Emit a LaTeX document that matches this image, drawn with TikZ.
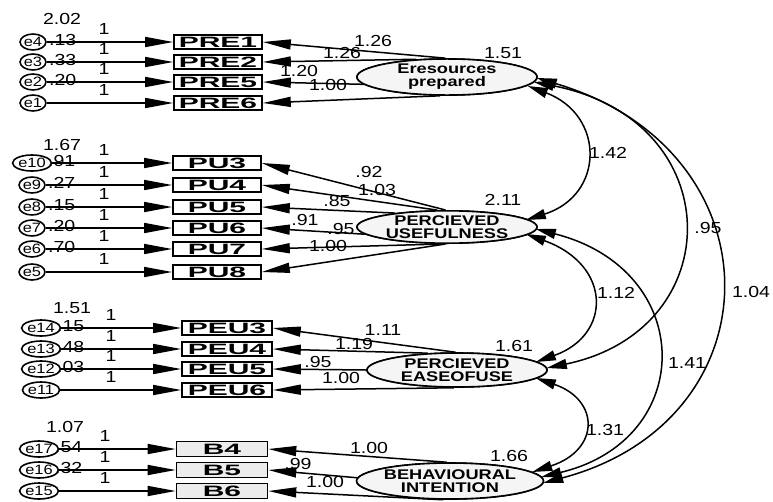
\documentclass[tikz,border=0pt]{standalone}
\usepackage{fontspec}
\setmainfont{Liberation Sans}
\newfontfamily\numf[FakeStretch=1.22]{Liberation Sans}
\newfontfamily\boxf[FakeStretch=2.0]{Liberation Sans Bold}
\newfontfamily\latf[FakeStretch=1.3]{Liberation Sans Bold}
\usetikzlibrary{arrows.meta,shapes.geometric,calc}
\tikzset{
  err/.style={ellipse, draw, line width=1.6pt, fill=white, minimum width=25pt, minimum height=16pt, inner sep=0pt, font=\numf\fontsize{13.5}{13}\selectfont},
  obs/.style={rectangle, draw, line width=1.6pt, fill=white, minimum width=88pt, minimum height=14pt, inner sep=0pt, font=\boxf\fontsize{15}{14}\selectfont},
  obsg/.style={obs, fill=gray!15},
  lat/.style={ellipse, draw, line width=1.6pt, fill=gray!8, minimum width=180pt, minimum height=30pt, inner sep=0pt, align=center, font=\latf\fontsize{14}{13}\selectfont},
  num/.style={inner sep=0pt, font=\numf\fontsize{16}{16}\selectfont},
  arr/.style={-{Triangle[length=28pt,width=10pt]}, line width=1.5pt},
  cov/.style={{Triangle[length=20pt,width=10pt]}-{Triangle[length=20pt,width=10pt]}, line width=1.5pt},
}
\begin{document}
\begin{tikzpicture}[x=1pt,y=-1pt]
\useasboundingbox[fill=white] (0,0) rectangle (773,501);

% ---------- latent variables ----------
\node[lat] (L1) at (447,77) {Eresources\\prepared};
\node[lat] (L2) at (447,227) {PERCIEVED\\USEFULNESS};
\node[lat, minimum height=34pt] (L3) at (457,370) {PERCIEVED\\EASEOFUSE};
\node[lat, minimum height=36pt] (L4) at (450,481) {BEHAVIOURAL\\INTENTION};

% ---------- PRE group ----------
\node[obs] (b1) at (218,42) {PRE1};
\node[obs] (b2) at (218,62) {PRE2};
\node[obs] (b3) at (218,82) {PRE5};
\node[obs] (b4) at (218,103) {PRE6};
\node[err] (e4) at (33,42) {e4};
\node[err] (e3) at (33,62) {e3};
\node[err] (e2) at (33,82) {e2};
\node[err] (e1) at (33,103) {e1};

% ---------- PU group ----------
\node[obs] (b5) at (217,163) {PU3};
\node[obs] (b6) at (217,185) {PU4};
\node[obs] (b7) at (217,207) {PU5};
\node[obs] (b8) at (217,228) {PU6};
\node[obs] (b9) at (217,249) {PU7};
\node[obs] (b10) at (217,272) {PU8};
\node[err] (e10) at (32,163) {e10};
\node[err] (e9) at (32,185) {e9};
\node[err] (e8) at (32,207) {e8};
\node[err] (e7) at (32,228) {e7};
\node[err] (e6) at (32,249) {e6};
\node[err] (e5) at (32,272) {e5};

% ---------- PEU group ----------
\node[obs, minimum width=90pt] (b11) at (227,328) {PEU3};
\node[obs, minimum width=90pt] (b12) at (227,349) {PEU4};
\node[obs, minimum width=90pt] (b13) at (227,369) {PEU5};
\node[obs, minimum width=90pt] (b14) at (227,390) {PEU6};
\node[err] (e14) at (41,328) {e14};
\node[err] (e13) at (41,349) {e13};
\node[err] (e12) at (41,369) {e12};
\node[err] (e11) at (41,390) {e11};

% ---------- B group ----------
\node[obsg, minimum width=91pt, minimum height=15pt] (b15) at (222,449) {B4};
\node[obsg, minimum width=91pt, minimum height=15pt] (b16) at (222,470) {B5};
\node[obsg, minimum width=91pt, minimum height=15pt] (b17) at (222,491) {B6};
\node[err] (e17) at (39,449) {e17};
\node[err] (e16) at (39,470) {e16};
\node[err] (e15) at (39,491) {e15};

% ---------- error arrows ----------
\foreach \e/\b in {e4/b1,e3/b2,e2/b3,e1/b4,e10/b5,e9/b6,e8/b7,e7/b8,e6/b9,e5/b10,e14/b11,e13/b12,e12/b13,e11/b14,e17/b15,e16/b16,e15/b17}
  \draw[arr] (\e) -- (\b);

% ---------- "1" labels ----------
\foreach \y [count=\i] in {29,49,69,90}
  \node[num] (oa\i) at (104,\y) {1};
\foreach \y [count=\i] in {150,172,194,215,236,259}
  \node[num] (ob\i) at (104,\y) {1};
\foreach \y [count=\i] in {315,336,356,377}
  \node[num] (oc\i) at (111,\y) {1};
\foreach \y [count=\i] in {436,457,478}
  \node[num] (od\i) at (105,\y) {1};

% ---------- error variances ----------
\node[num] (va1) at (62,19) {2.02};
\node[num, anchor=west] (va2) at (49,40) {.13};
\node[num, anchor=west] (va3) at (49,60) {.33};
\node[num, anchor=west] (va4) at (49,80) {.20};
\node[num] (vb1) at (62,145) {1.67};
\node[num, anchor=west] (vb2) at (48,161) {.91};
\node[num, anchor=west] (vb3) at (48,183) {.27};
\node[num, anchor=west] (vb4) at (48,205) {.15};
\node[num, anchor=west] (vb5) at (48,226) {.20};
\node[num, anchor=west] (vb6) at (48,247) {.70};
\node[num] (vc1) at (72,308) {1.51};
\node[num, anchor=west] (vc2) at (57,326) {.15};
\node[num, anchor=west] (vc3) at (57,347) {.48};
\node[num, anchor=west] (vc4) at (57,367) {.03};
\node[num] (vd1) at (65,427) {1.07};
\node[num, anchor=west] (vd2) at (55,447) {.54};
\node[num, anchor=west] (vd3) at (55,468) {.32};

% ---------- loadings ----------
\draw[arr] (L1.95) -- (b1.east);
\draw[arr] (L1.150) -- (b2.east);
\draw[arr] (L1.185) -- (b3.east);
\draw[arr] (L1.250) -- (b4.east);
\draw[arr] (L2.95) -- (b5.east);
\draw[arr] (L2.120) -- (b6.east);
\draw[arr] (L2.165) -- (b7.east);
\draw[arr] (L2.185) -- (b8.east);
\draw[arr] (L2.255) -- (b9.east);
\draw[arr] (L2.265) -- (b10.east);
\draw[arr] (L3.95) -- (b11.east);
\draw[arr] (L3.150) -- (b12.east);
\draw[arr] (L3.180) -- (b13.east);
\draw[arr] (L3.260) -- (b14.east);
\draw[arr] (L4.100) -- (b15.east);
\draw[arr] (L4.178) -- (b16.east);
\draw[arr] (L4.250) -- (b17.east);

% redraw latent ellipses on top of loading lines
\node[lat] at (L1) {Eresources\\prepared};
\node[lat] at (L2) {PERCIEVED\\USEFULNESS};
\node[lat, minimum height=34pt] at (L3) {PERCIEVED\\EASEOFUSE};
\node[lat, minimum height=36pt] at (L4) {BEHAVIOURAL\\INTENTION};

% loading labels
\node[num] (la1) at (373,41) {1.26};
\node[num] (la2) at (342,53) {1.26};
\node[num] (la3) at (299,71) {1.20};
\node[num] (la4) at (328,85) {1.00};
\node[num] (lb1) at (369,172) {.92};
\node[num] (lb2) at (377,190) {1.03};
\node[num] (lb3) at (337,201) {.85};
\node[num] (lb4) at (305,220) {.91};
\node[num] (lb5) at (341,229) {.95};
\node[num] (lb6) at (328,246) {1.00};
\node[num] (lc1) at (383,330) {1.11};
\node[num] (lc2) at (354,344) {1.19};
\node[num] (lc3) at (318,362) {.95};
\node[num] (lc4) at (341,378) {1.00};
\node[num] (ld1) at (369,448) {1.00};
\node[num] (ld2) at (298,464) {.99};
\node[num] (ld3) at (325,482) {1.00};

% latent variances
\node[num] (w1) at (503,53) {1.51};
\node[num] (w2) at (503,200) {2.11};
\node[num] (w3) at (514,346) {1.61};
\node[num] (w4) at (509,456) {1.66};

% ---------- covariances ----------
\coordinate (c1a) at ($(L1.east)+(-10,9)$);
\coordinate (c1b) at ($(L2.east)+(-12,-7)$);
\coordinate (c2a) at ($(L2.east)+(-12,7)$);
\coordinate (c2b) at ($(L3.east)+(-12,-8)$);
\coordinate (c3a) at ($(L3.east)+(-12,8)$);
\coordinate (c3b) at ($(L4.east)+(-12,-9)$);
\coordinate (c4a) at ($(L1.east)+(-4,5)$);
\coordinate (c4b) at ($(L3.east)+(-1,-2)$);
\coordinate (c5a) at ($(L2.east)+(-2,2)$);
\coordinate (c5b) at ($(L4.east)+(-3,-4)$);
\coordinate (c6a) at ($(L1.east)+(-1,1)$);
\coordinate (c6b) at ($(L4.east)+(-1,2)$);
\draw[cov] (c1a) .. controls (605,115) and (605,195) .. (c1b);
\draw[cov] (c2a) .. controls (612,265) and (612,335) .. (c2b);
\draw[cov] (c3a) .. controls (600,400) and (600,450) .. (c3b);
\draw[cov] (c4a) .. controls (730,120) and (730,330) .. (c4b);
\draw[cov] (c5a) .. controls (697,270) and (697,440) .. (c5b);
\draw[cov] (c6a) .. controls (780,150) and (780,420) .. (c6b);
\node[num] (k1) at (608,153) {1.42};
\node[num] (k2) at (616,293) {1.12};
\node[num] (k3) at (605,430) {1.31};
\node[num] (k4) at (708,228) {.95};
\node[num] (k5) at (687,363) {1.41};
\node[num] (k6) at (751,292) {1.04};
\end{tikzpicture}
\end{document}
